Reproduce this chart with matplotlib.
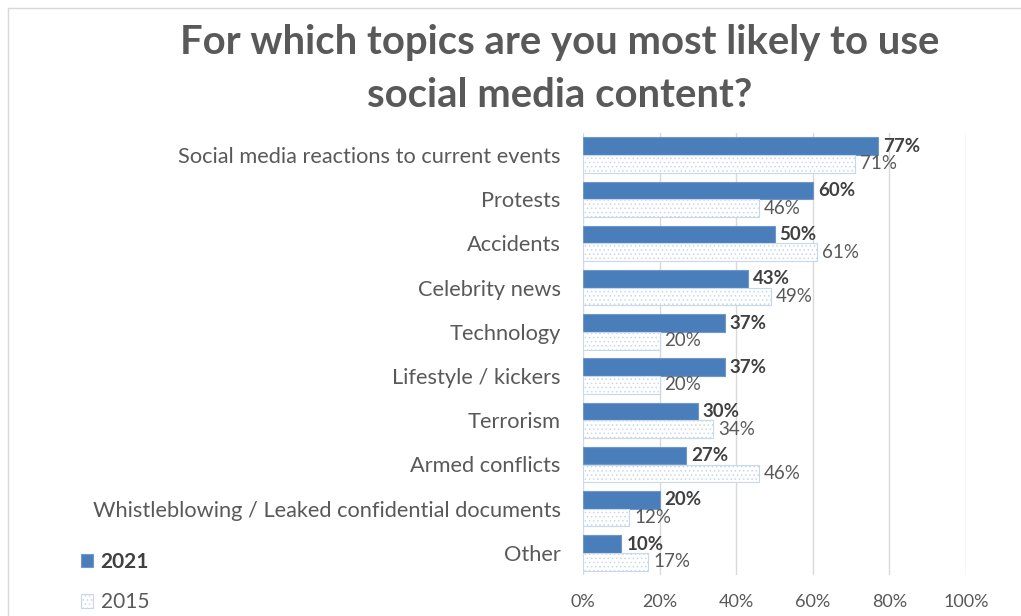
import matplotlib.pyplot as plt
from matplotlib.lines import Line2D
import numpy as np

topics = [
    "Social media reactions to current events",
    "Protests",
    "Accidents",
    "Celebrity news",
    "Technology",
    "Lifestyle / kickers",
    "Terrorism",
    "Armed conflicts",
    "Whistleblowing / Leaked confidential documents",
    "Other",
]
y2021 = [77, 60, 50, 43, 37, 37, 30, 27, 20, 10]
y2015 = [71, 46, 61, 49, 20, 20, 34, 46, 12, 17]

BLUE = "#4a7ebb"
GREY = "#595959"
FONT = "Lato"

plt.rcParams["font.family"] = [FONT, "DejaVu Sans"]
plt.rcParams["hatch.color"] = "#9fb9dc"
plt.rcParams["hatch.linewidth"] = 0.6

fig = plt.figure(figsize=(10.21, 6.16), dpi=100)
ax = fig.add_axes([583 / 1021, 1 - 575 / 616, (966 - 583) / 1021, (575 - 133) / 616])

pos = np.arange(len(topics))
h = 0.4
b1 = ax.barh(pos - h / 2, y2021, height=h, color=BLUE, edgecolor="#6f97c9", linewidth=0.8, label="2021")
b2 = ax.barh(pos + h / 2, y2015, height=h, color="white", edgecolor="#c8d7ec", linewidth=0.8,
             hatch="....", label="2015")

for p, v in zip(pos, y2021):
    ax.text(v + 1.3, p - h / 2, f"{v}%", va="center", ha="left", fontsize=13.5,
            fontweight="bold", color="#404040")
for p, v in zip(pos, y2015):
    ax.text(v + 1.3, p + h / 2, f"{v}%", va="center", ha="left", fontsize=13.5, color=GREY)

ax.set_xlim(0, 100)
ax.set_ylim(len(topics) - 0.5, -0.5)
ax.set_xticks(range(0, 101, 20))
ax.set_xticklabels([f"{t}%" for t in range(0, 101, 20)])
ax.set_yticks(pos)
ax.set_yticklabels(topics)
ax.tick_params(axis="x", length=0, labelsize=13, colors=GREY, pad=14)
ax.tick_params(axis="y", length=0, labelsize=15.7, colors=GREY, pad=16)
ax.grid(axis="x", color="#d9d9d9", linewidth=1)
ax.set_axisbelow(True)
for s in ax.spines.values():
    s.set_visible(False)

fig.text(0.548, 1 - 69 / 616, "For which topics are you most likely to use\nsocial media content?",
         ha="center", va="center", fontsize=28.8, fontweight="bold", color=GREY, linespacing=1.52)

leg = fig.legend(handles=[b1, b2], loc="center left", bbox_to_anchor=(62 / 1021, 1 - 582 / 616),
                 frameon=False, fontsize=15, handlelength=0.6, handleheight=0.6,
                 labelspacing=1.0, handletextpad=0.35)
for t in leg.get_texts():
    t.set_color(GREY)
leg.get_texts()[0].set_fontweight("bold")
leg.get_texts()[0].set_color("#404040")

# chart frame
fig.add_artist(Line2D([8 / 1021, 8 / 1021], [0, 1 - 8 / 616], color="#d9d9d9", lw=1))
fig.add_artist(Line2D([8 / 1021, 1], [1 - 8 / 616, 1 - 8 / 616], color="#d9d9d9", lw=1))

fig.savefig("out.png", dpi=100)
